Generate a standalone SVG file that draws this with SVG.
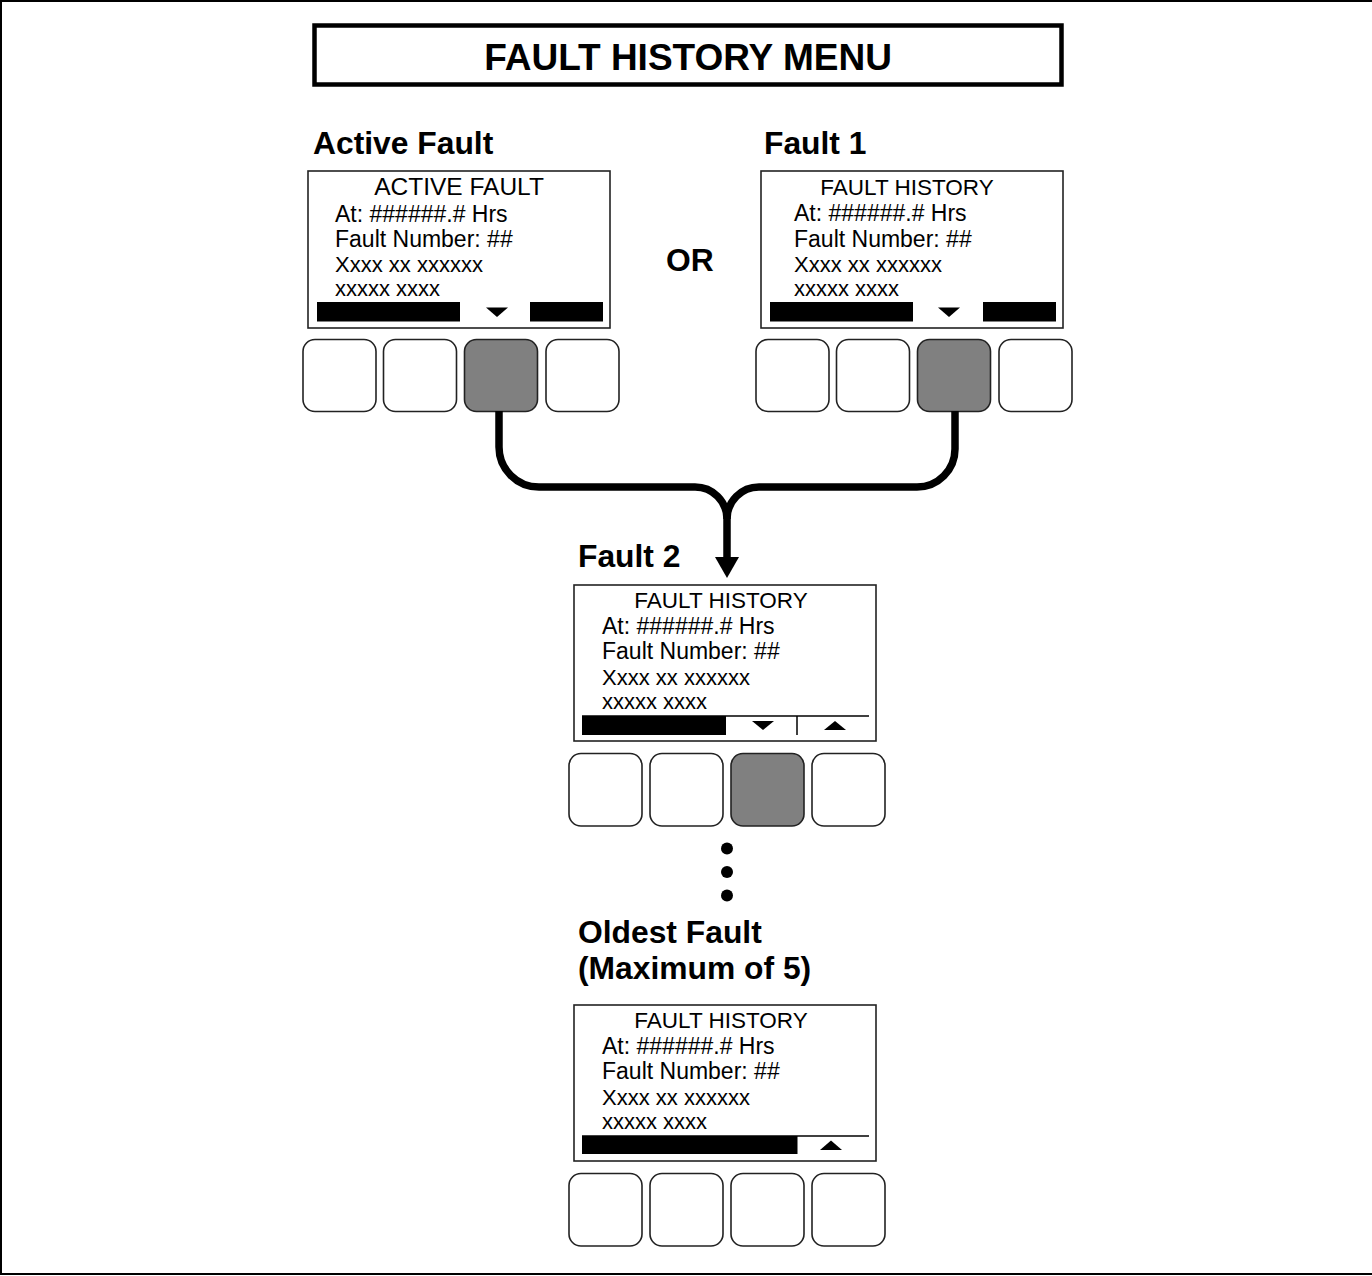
<svg xmlns="http://www.w3.org/2000/svg" width="1372" height="1276" viewBox="0 0 1372 1276">
<style>
.lbl{font-family:"Liberation Sans",Arial,sans-serif;font-weight:bold;font-size:31.8px;fill:#000}
.scr{fill:#fff;stroke:#222;stroke-width:1.6}
.t{font-family:"Liberation Sans",Arial,sans-serif;font-size:23px;fill:#000}
.tx{font-family:"Liberation Sans",Arial,sans-serif;font-size:22px;fill:#000}
.hd{font-family:"Liberation Sans",Arial,sans-serif;font-size:22.5px;fill:#000;text-anchor:middle}
.hd.big{font-size:24.5px}
.btn{fill:#fff;stroke:#222;stroke-width:1.6}
.btnOn{fill:#808080;stroke:#222;stroke-width:1.6}
.bar{fill:#000}
.conn{fill:none;stroke:#000;stroke-width:7.5;stroke-linecap:butt}
</style>
<rect x="0" y="0" width="1372" height="1276" fill="#fff"/>
<rect x="1" y="1" width="1372" height="1273" fill="none" stroke="#000" stroke-width="2"/>
<g id="title">
<rect x="314.5" y="25.5" width="747" height="59" fill="#fff" stroke="#000" stroke-width="4.5"/>
<text x="688" y="70" text-anchor="middle" font-family="Liberation Sans, Arial, sans-serif" font-weight="bold" font-size="37">FAULT HISTORY MENU</text>
</g>
<g id="or"><text class="lbl" x="666" y="271">OR</text></g>

<g id="active-fault">
<text class="lbl" x="313" y="154">Active Fault</text>
<rect class="scr" x="308" y="171" width="302" height="157"/>
<text class="hd big" x="459" y="195">ACTIVE FAULT</text>
<text class="t" x="335" y="221.5">At: ######.# Hrs</text>
<text class="t" x="335" y="247">Fault Number: ##</text>
<text class="tx" x="335" y="272">Xxxx xx xxxxxx</text>
<text class="tx" x="335" y="295.5">xxxxx xxxx</text>
<rect class="bar" x="317" y="302" width="143" height="19.5"/>
<rect class="bar" x="530" y="302" width="73" height="19.5"/>
<polygon class="bar" points="486,307.5 508,307.5 497,317"/>
<rect class="btn" x="303" y="339.5" width="73" height="72" rx="12"/>
<rect class="btn" x="383.5" y="339.5" width="73" height="72" rx="12"/>
<rect class="btnOn" x="464.5" y="339.5" width="73" height="72" rx="12"/>
<rect class="btn" x="546" y="339.5" width="73" height="72" rx="12"/>
</g>

<g id="fault-1">
<text class="lbl" x="764" y="154">Fault 1</text>
<rect class="scr" x="761" y="171" width="302" height="157"/>
<text class="hd" x="907" y="195">FAULT HISTORY</text>
<text class="t" x="794" y="221">At: ######.# Hrs</text>
<text class="t" x="794" y="247">Fault Number: ##</text>
<text class="tx" x="794" y="272">Xxxx xx xxxxxx</text>
<text class="tx" x="794" y="295.5">xxxxx xxxx</text>
<rect class="bar" x="770" y="302" width="143" height="19.5"/>
<rect class="bar" x="983" y="302" width="73" height="19.5"/>
<polygon class="bar" points="938,307.5 960,307.5 949,317"/>
<rect class="btn" x="756" y="339.5" width="73" height="72" rx="12"/>
<rect class="btn" x="836.5" y="339.5" width="73" height="72" rx="12"/>
<rect class="btnOn" x="917.5" y="339.5" width="73" height="72" rx="12"/>
<rect class="btn" x="999" y="339.5" width="73" height="72" rx="12"/>
</g>

<g id="fault-2">
<text class="lbl" x="578" y="567">Fault 2</text>
<rect class="scr" x="574" y="585" width="302" height="156"/>
<text class="hd" x="721" y="607.5">FAULT HISTORY</text>
<text class="t" x="602" y="634">At: ######.# Hrs</text>
<text class="t" x="602" y="659">Fault Number: ##</text>
<text class="tx" x="602" y="685">Xxxx xx xxxxxx</text>
<text class="tx" x="602" y="708.5">xxxxx xxxx</text>
<line x1="582" y1="716" x2="869" y2="716" stroke="#000" stroke-width="1.5"/>
<rect class="bar" x="582" y="716" width="144" height="19"/>
<line x1="797" y1="716" x2="797" y2="735" stroke="#000" stroke-width="1.5"/>
<polygon class="bar" points="752,721 774,721 763,730"/>
<polygon class="bar" points="824,730 846,730 835,721"/>
<rect class="btn" x="569" y="753.5" width="73" height="72.5" rx="12"/>
<rect class="btn" x="650" y="753.5" width="73" height="72.5" rx="12"/>
<rect class="btnOn" x="731" y="753.5" width="73" height="72.5" rx="12"/>
<rect class="btn" x="812" y="753.5" width="73" height="72.5" rx="12"/>
</g>

<g id="more">
<circle cx="727" cy="848.5" r="6"/>
<circle cx="727" cy="872" r="6"/>
<circle cx="727" cy="895.5" r="6"/>
</g>

<g id="oldest-fault">
<text class="lbl" x="578" y="943">Oldest Fault</text>
<text class="lbl" x="578" y="979">(Maximum of 5)</text>
<rect class="scr" x="574" y="1005" width="302" height="156"/>
<text class="hd" x="721" y="1027.5">FAULT HISTORY</text>
<text class="t" x="602" y="1054">At: ######.# Hrs</text>
<text class="t" x="602" y="1079">Fault Number: ##</text>
<text class="tx" x="602" y="1105">Xxxx xx xxxxxx</text>
<text class="tx" x="602" y="1128.5">xxxxx xxxx</text>
<line x1="582" y1="1136" x2="869" y2="1136" stroke="#000" stroke-width="1.5"/>
<rect class="bar" x="582" y="1136" width="215.5" height="18"/>
<polygon class="bar" points="820,1150 842,1150 831,1140.5"/>
<rect class="btn" x="569" y="1173.5" width="73" height="72.5" rx="12"/>
<rect class="btn" x="650" y="1173.5" width="73" height="72.5" rx="12"/>
<rect class="btn" x="731" y="1173.5" width="73" height="72.5" rx="12"/>
<rect class="btn" x="812" y="1173.5" width="73" height="72.5" rx="12"/>
</g>

<g id="connectors">
<path class="conn" d="M499,411 V447 A40,40 0 0 0 539,487 H695 A32,32 0 0 1 727,519 V560"/>
<path class="conn" d="M955,411 V449 A38,38 0 0 1 917,487 H759 A32,32 0 0 0 727,519"/>
<polygon points="715,557 739,557 727,578" fill="#000"/>
</g>
</svg>
